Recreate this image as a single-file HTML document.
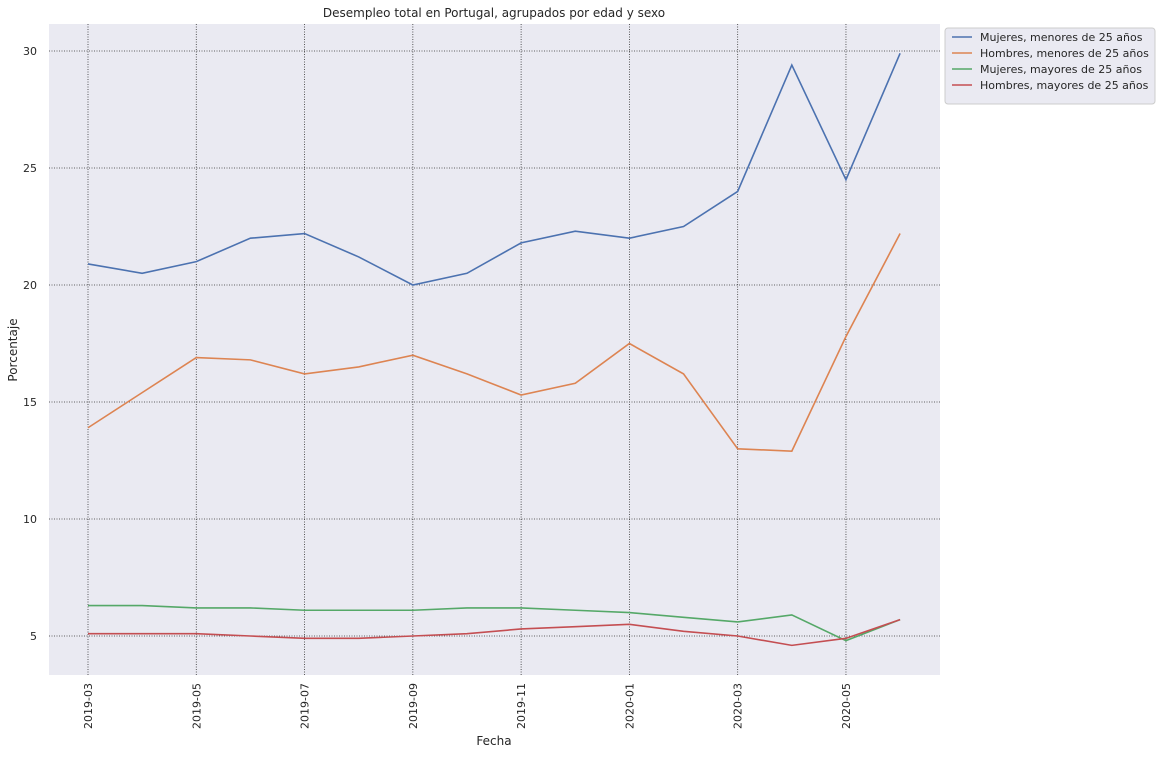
<!DOCTYPE html>
<html><head><meta charset="utf-8"><style>
body{margin:0;background:#fff;font-family:"Liberation Sans","DejaVu Sans",sans-serif;}
svg text{font-family:"DejaVu Sans","Liberation Sans",sans-serif;fill:#262626;}
</style></head><body>
<svg id="c" width="1162" height="755">
<rect x="49" y="24" width="891" height="651" fill="#eaeaf2"/>
<g id="grid"></g><g id="series"></g><g id="ticks"></g>
<text x="494" y="17" font-size="12" text-anchor="middle">Desempleo total en Portugal, agrupados por edad y sexo</text>
<text x="494" y="745" font-size="12" text-anchor="middle">Fecha</text>
<text transform="translate(17,350) rotate(-90)" font-size="12" text-anchor="middle">Porcentaje</text>
<g id="legend">
<rect x="945" y="28" width="210" height="76" rx="3" fill="#eaeaf2" stroke="#ccc"/>
</g>
</svg>
<script>
const months=["2019-03","2019-04","2019-05","2019-06","2019-07","2019-08","2019-09","2019-10","2019-11","2019-12","2020-01","2020-02","2020-03","2020-04","2020-05","2020-06"];
const xTickLabels=["2019-03","2019-05","2019-07","2019-09","2019-11","2020-01","2020-03","2020-05"];
const yTicks=[5,10,15,20,25,30];
const seriesNames=["Mujeres, menores de 25 años","Hombres, menores de 25 años","Mujeres, mayores de 25 años","Hombres, mayores de 25 años"];
const mujeresMenores=[20.9,20.5,21.0,22.0,22.2,21.2,20.0,20.5,21.8,22.3,22.0,22.5,24.0,29.4,24.5,29.9];
const hombresMenores=[13.9,15.4,16.9,16.8,16.2,16.5,17.0,16.2,15.3,15.8,17.5,16.2,13.0,12.9,17.8,22.2];
const mujeresMayores=[6.3,6.3,6.2,6.2,6.1,6.1,6.1,6.2,6.2,6.1,6.0,5.8,5.6,5.9,4.8,5.7];
const hombresMayores=[5.1,5.1,5.1,5.0,4.9,4.9,5.0,5.1,5.3,5.4,5.5,5.2,5.0,4.6,4.9,5.7];
const colors=["#4c72b0","#dd8452","#55a868","#c44e52"];
const NS="http://www.w3.org/2000/svg";
const xs=i=>88+i*54.14;
const ys=v=>636-(v-5)*23.4;
function mk(t,a,p){const e=document.createElementNS(NS,t);for(const k in a)e.setAttribute(k,a[k]);p.appendChild(e);return e;}
const grid=document.getElementById('grid'),ticks=document.getElementById('ticks');
yTicks.forEach(v=>{
 const l=mk('line',{x1:49,x2:940,y1:ys(v),y2:ys(v),stroke:'#333','stroke-width':0.8,'stroke-dasharray':'1,1.5'},grid);
 
 
 const t=mk('text',{x:37,y:ys(v)+4,'font-size':11,'text-anchor':'end'},ticks);t.textContent=v;
 
 
});
xTickLabels.forEach(lab=>{
 const x=xs(months.indexOf(lab));
 const l=mk('line',{x1:x,x2:x,y1:24,y2:675,stroke:'#333','stroke-width':0.8,'stroke-dasharray':'1,1.5'},grid);
 
 
 const t=mk('text',{transform:`translate(${x+4},683) rotate(-90)`,'font-size':11,'text-anchor':'end'},ticks);t.textContent=lab;
 
 
});
const sg=document.getElementById('series'),lg=document.getElementById('legend');
[mujeresMenores,hombresMenores,mujeresMayores,hombresMayores].forEach((d,k)=>{
 const p=mk('polyline',{points:d.map((v,i)=>xs(i)+','+ys(v)).join(' '),fill:'none',stroke:colors[k],'stroke-width':1.6},sg);
 
 
 const y=37+k*16;
 const ll=mk('line',{x1:952,x2:972,y1:y,y2:y,stroke:colors[k],'stroke-width':1.6},lg);
 
 
 const t=mk('text',{x:980,y:y+4,'font-size':11},lg);t.textContent=seriesNames[k];
 
 
});
</script>
</body></html>
